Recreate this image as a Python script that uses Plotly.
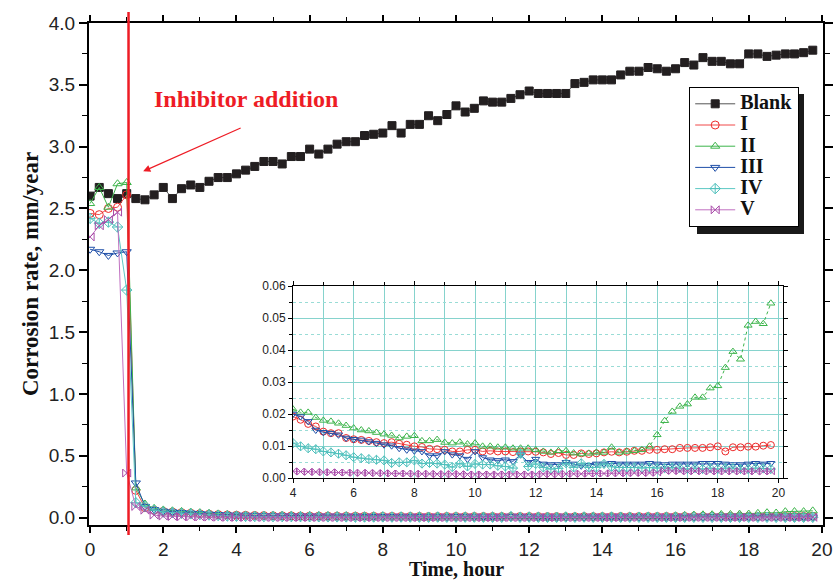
import plotly.graph_objects as go

# ---------------- data ----------------
TIME = [0.0, 0.25, 0.5, 0.75, 1.0, 1.25, 1.5, 1.75, 2.0, 2.25, 2.5, 2.75, 3.0, 3.25, 3.5, 3.75,
        4.0, 4.25, 4.5, 4.75, 5.0, 5.25, 5.5, 5.75, 6.0, 6.25, 6.5, 6.75, 7.0, 7.25, 7.5, 7.75,
        8.0, 8.25, 8.5, 8.75, 9.0, 9.25, 9.5, 9.75, 10.0, 10.25, 10.5, 10.75, 11.0, 11.25, 11.5, 11.75,
        12.0, 12.25, 12.5, 12.75, 13.0, 13.25, 13.5, 13.75, 14.0, 14.25, 14.5, 14.75, 15.0, 15.25, 15.5, 15.75,
        16.0, 16.25, 16.5, 16.75, 17.0, 17.25, 17.5, 17.75, 18.0, 18.25, 18.5, 18.75, 19.0, 19.25, 19.5, 19.75]

BLANK = [2.60, 2.67, 2.62, 2.58, 2.62, 2.58, 2.57, 2.61, 2.67, 2.58, 2.66, 2.69, 2.67, 2.72, 2.75, 2.75,
         2.78, 2.81, 2.84, 2.88, 2.88, 2.86, 2.92, 2.92, 2.98, 2.94, 2.98, 3.02, 3.04, 3.04, 3.09, 3.10,
         3.11, 3.17, 3.11, 3.18, 3.18, 3.25, 3.21, 3.26, 3.33, 3.28, 3.31, 3.37, 3.36, 3.36, 3.39, 3.42,
         3.45, 3.43, 3.43, 3.43, 3.43, 3.51, 3.52, 3.54, 3.54, 3.54, 3.58, 3.61, 3.61, 3.64, 3.63, 3.61,
         3.63, 3.68, 3.66, 3.72, 3.69, 3.69, 3.67, 3.67, 3.75, 3.75, 3.73, 3.74, 3.75, 3.75, 3.76, 3.78]

INH_I = [2.46, 2.45, 2.50, 2.51, 2.61, 0.22, 0.08, 0.06, 0.05, 0.045, 0.04, 0.035, 0.031, 0.027, 0.024, 0.021,
         0.0192, 0.0182, 0.0169, 0.0161, 0.0145, 0.014, 0.014, 0.0125, 0.0121, 0.0119, 0.0116, 0.0112, 0.0109, 0.0112, 0.0107, 0.0104,
         0.0099, 0.0097, 0.0091, 0.009, 0.0088, 0.0083, 0.0083, 0.0088, 0.0088, 0.0083, 0.0085, 0.0083, 0.0083, 0.0081, 0.0083, 0.0083,
         0.0082, 0.008, 0.0075, 0.0078, 0.0072, 0.0072, 0.0077, 0.0075, 0.0077, 0.008, 0.0082, 0.008, 0.0082, 0.0085, 0.0085, 0.0088,
         0.0088, 0.009, 0.009, 0.0094, 0.0094, 0.0094, 0.0094, 0.0096, 0.0099, 0.0083, 0.0096, 0.0096, 0.0098, 0.0098, 0.0101, 0.0103]

INH_II = [2.54, 2.67, 2.51, 2.70, 2.71, 0.24, 0.11, 0.075, 0.062, 0.055, 0.05, 0.045, 0.04, 0.035, 0.03, 0.025,
          0.0215, 0.0205, 0.0205, 0.0189, 0.018, 0.0177, 0.0171, 0.0164, 0.0156, 0.015, 0.0147, 0.0142, 0.0137, 0.0133, 0.0125, 0.013,
          0.0132, 0.0116, 0.0116, 0.012, 0.0111, 0.0109, 0.0112, 0.0106, 0.0109, 0.0099, 0.0099, 0.0096, 0.0096, 0.0093, 0.0093, 0.0093,
          0.0088, 0.0083, 0.008, 0.0085, 0.0085, 0.0078, 0.0075, 0.0077, 0.008, 0.008, 0.0096, 0.008, 0.0083, 0.0085, 0.0088, 0.0099,
          0.0135, 0.0179, 0.0208, 0.0224, 0.0231, 0.0252, 0.0252, 0.0281, 0.0288, 0.0345, 0.0395, 0.0371, 0.0477, 0.0489, 0.0482, 0.0546]

INH_III = [2.17, 2.15, 2.12, 2.14, 2.15, 0.28, 0.09, 0.065, 0.052, 0.046, 0.041, 0.036, 0.032, 0.028, 0.025, 0.022,
           0.02, 0.0192, 0.0177, 0.015, 0.0143, 0.014, 0.0135, 0.0125, 0.0121, 0.0119, 0.0114, 0.0109, 0.0104, 0.0101, 0.0093, 0.0088,
           0.0085, 0.0083, 0.007, 0.007, 0.0083, 0.0073, 0.007, 0.0059, 0.0083, 0.0064, 0.0057, 0.0055, 0.0057, 0.0052, 0.0073, 0.0049,
           0.0059, 0.0044, 0.0042, 0.0042, 0.0049, 0.0044, 0.0038, 0.004, 0.0044, 0.0044, 0.0046, 0.0044, 0.0044, 0.0044, 0.0044, 0.0046,
           0.0044, 0.0042, 0.0044, 0.0044, 0.0044, 0.0044, 0.0046, 0.0046, 0.0046, 0.0044, 0.0042, 0.0042, 0.0044, 0.0046, 0.0044, 0.0046]

INH_IV = [2.42, 2.38, 2.39, 2.35, 1.84, 0.12, 0.09, 0.06, 0.045, 0.04, 0.035, 0.03, 0.025, 0.021, 0.017, 0.013,
          0.0109, 0.0099, 0.0093, 0.009, 0.0083, 0.008, 0.0076, 0.0071, 0.0065, 0.0062, 0.0059, 0.0057, 0.0055, 0.0047, 0.0049, 0.0049,
          0.0055, 0.0045, 0.0047, 0.0045, 0.0042, 0.0034, 0.0045, 0.0036, 0.0044, 0.0042, 0.0042, 0.0038, 0.0036, 0.0031, 0.0076, 0.0036,
          0.0044, 0.0033, 0.0028, 0.003, 0.0046, 0.0033, 0.0046, 0.0033, 0.0033, 0.0044, 0.0035, 0.0033, 0.0033, 0.0033, 0.0031, 0.0033,
          0.0031, 0.0031, 0.0033, 0.0031, 0.0028, 0.0031, 0.0028, 0.0031, 0.0028, 0.0031, 0.0031, 0.0028, 0.0028, 0.0031, 0.003, 0.0028]

INH_V = [2.27, 2.36, 2.41, 2.47, 0.36, 0.09, 0.06, 0.02, 0.012, 0.009, 0.007, 0.006, 0.005, 0.004, 0.003, 0.0025,
         0.0021, 0.002, 0.0019, 0.0019, 0.0018, 0.0018, 0.0017, 0.0017, 0.0016, 0.0016, 0.0016, 0.0015, 0.0015, 0.0014, 0.0014, 0.0014,
         0.0013, 0.0013, 0.0013, 0.0012, 0.0012, 0.0012, 0.0012, 0.0011, 0.0011, 0.0011, 0.0011, 0.0011, 0.0011, 0.0011, 0.0011, 0.0011,
         0.0011, 0.0012, 0.0012, 0.0012, 0.0013, 0.0013, 0.0013, 0.0014, 0.0014, 0.0014, 0.0015, 0.0015, 0.0015, 0.0016, 0.0016, 0.0016,
         0.0017, 0.0023, 0.0022, 0.0022, 0.0021, 0.0022, 0.0021, 0.0021, 0.0021, 0.0021, 0.0021, 0.0021, 0.0021, 0.0021, 0.0021, 0.0021]

SERIES_NAMES = ["Blank", "I", "II", "III", "IV", "V"]
INHIBITOR_TIME = 1.05
ARROW_TIP = (1.45, 2.80)
INSET_START = 16  # index of t = 4 h (inset begins there)

# ---------------- styles ----------------
SERIF = "Liberation Serif"
SANS = "Liberation Sans"
styles = [
    dict(data=BLANK, line="#555555", mcol="#231f20", symbol="square"),
    dict(data=INH_I, line="#f04848", mcol="#ee2a2a", symbol="circle-open"),
    dict(data=INH_II, line="#3cb44a", mcol="#3cb44a", symbol="triangle-up-open"),
    dict(data=INH_III, line="#1f4fa8", mcol="#1f4fa8", symbol="triangle-down-open"),
    dict(data=INH_IV, line="#5cc8c4", mcol="#4fc0bc", symbol="diamond-cross-open"),
    dict(data=INH_V, line="#c070c0", mcol="#a84aa8", symbol="bowtie-open"),
]

fig = go.Figure()

for name, st in zip(SERIES_NAMES, styles):
    fig.add_trace(go.Scatter(
        x=TIME, y=st["data"], mode="lines+markers",
        name="<b><span style='font-size:20px'>%s</span></b>" % name,
        line=dict(color=st["line"], width=1),
        marker=dict(symbol=st["symbol"], size=8, color=st["mcol"],
                    line=dict(color=st["mcol"], width=1)),
        xaxis="x", yaxis="y",
    ))

# inset traces (inhibitor series only, t >= 4 h)
for name, st in zip(SERIES_NAMES[1:], styles[1:]):
    fig.add_trace(go.Scatter(
        x=TIME[INSET_START:], y=st["data"][INSET_START:], mode="lines+markers",
        showlegend=False,
        line=dict(color=st["line"], width=1, dash="dot" if name == "II" else "solid"),
        marker=dict(symbol=st["symbol"], size=7, color=st["mcol"],
                    line=dict(color=st["mcol"], width=1)),
        xaxis="x2", yaxis="y2",
    ))

W, H = 836, 581
ML, MR, MT, MB = 89, 13, 23, 56
PW, PH = W - ML - MR, H - MT - MB


def px(xp):
    return (xp - ML) / PW


def py(yp):
    return (H - MB - yp) / PH


fig.update_layout(
    width=W, height=H,
    margin=dict(l=ML, r=MR, t=MT, b=MB, autoexpand=False),
    paper_bgcolor="white", plot_bgcolor="white",
    showlegend=True,
    legend=dict(
        x=px(689), y=py(87), xanchor="left", yanchor="top",
        bgcolor="white", bordercolor="black", borderwidth=1.2,
        font=dict(family=SERIF, size=14, color="#111111"),
        itemwidth=40, tracegroupgap=0,
    ),
    xaxis=dict(
        domain=[0, 1], range=[-0.03, 20.03], dtick=2, tick0=0, automargin=False,
        showgrid=False, zeroline=False,
        showline=True, linecolor="black", linewidth=2, mirror="allticks",
        ticks="outside", ticklen=6, tickwidth=1.5, tickcolor="black",
        minor=dict(dtick=1, ticks="outside", ticklen=4, tickwidth=1.2, tickcolor="black"),
        tickfont=dict(family=SANS, size=19, color="#222222"),
    ),
    yaxis=dict(
        domain=[0, 1], range=[-0.06, 4.0], dtick=0.5, tick0=0, tickformat=".1f", automargin=False,
        showgrid=False, zeroline=False,
        showline=True, linecolor="black", linewidth=2, mirror="allticks",
        ticks="outside", ticklen=8, tickwidth=1.5, tickcolor="black",
        minor=dict(dtick=0.25, ticks="outside", ticklen=5, tickwidth=1.2, tickcolor="black"),
        tickfont=dict(family=SANS, size=19, color="#222222"),
        title=dict(text="<b>Corrosion rate, mm/year</b>", font=dict(family=SERIF, size=23, color="#111111"), standoff=4),
    ),
    xaxis2=dict(
        domain=[px(293), px(783)], anchor="y2", range=[4, 20.15], dtick=2, tick0=0, automargin=False,
        showgrid=True, gridcolor="#86d3cd", gridwidth=1,
        zeroline=False, showline=True, linecolor="black", linewidth=1, mirror="allticks",
        ticks="outside", ticklen=4, tickcolor="black",
        minor=dict(dtick=1, showgrid=True, gridcolor="#86d3cd", gridwidth=1,
                   ticks="outside", ticklen=3, tickcolor="black"),
        tickfont=dict(family=SANS, size=12, color="#222222"),
    ),
    yaxis2=dict(
        domain=[py(478), py(286)], anchor="x2", range=[0, 0.06], dtick=0.01, tick0=0, tickformat=".2f",
        automargin=False,
        showgrid=True, gridcolor="#86d3cd", gridwidth=1,
        zeroline=False, showline=True, linecolor="black", linewidth=1, mirror="allticks",
        ticks="outside", ticklen=4, tickcolor="black",
        minor=dict(dtick=0.005, showgrid=True, gridcolor="#9adcd6", gridwidth=1, griddash="dot",
                   ticks="outside", ticklen=3, tickcolor="black"),
        tickfont=dict(family=SANS, size=12, color="#222222"),
    ),
)

# x axis title placed just above the bottom edge
fig.add_annotation(xref="paper", yref="paper", x=0.5, y=py(569),
                   xanchor="center", yanchor="middle",
                   text="<b>Time, hour</b>", showarrow=False,
                   font=dict(family=SERIF, size=20, color="#111111"))

# legend shadow
fig.add_shape(type="rect", xref="paper", yref="paper",
              x0=px(697), x1=px(804), y0=py(234), y1=py(94),
              fillcolor="#1a1a1a", line=dict(width=0), layer="above")

# inhibitor addition vertical line
fig.add_shape(type="line", xref="x", yref="paper",
              x0=INHIBITOR_TIME, x1=INHIBITOR_TIME, y0=py(535), y1=py(12),
              line=dict(color="#ee1c25", width=2.5), layer="above")

# annotation text + arrow
fig.add_annotation(xref="paper", yref="paper", x=px(246), y=py(99),
                   xanchor="center", yanchor="middle",
                   text="<b>Inhibitor addition</b>", showarrow=False,
                   font=dict(family=SERIF, size=24, color="#ee1c25"))
fig.add_annotation(xref="x", yref="y", x=ARROW_TIP[0], y=ARROW_TIP[1], ax=99, ay=-44,
                   text="", showarrow=True, arrowhead=2, arrowsize=1.2,
                   arrowwidth=1.2, arrowcolor="#ee1c25")

fig.write_html("out.html")
